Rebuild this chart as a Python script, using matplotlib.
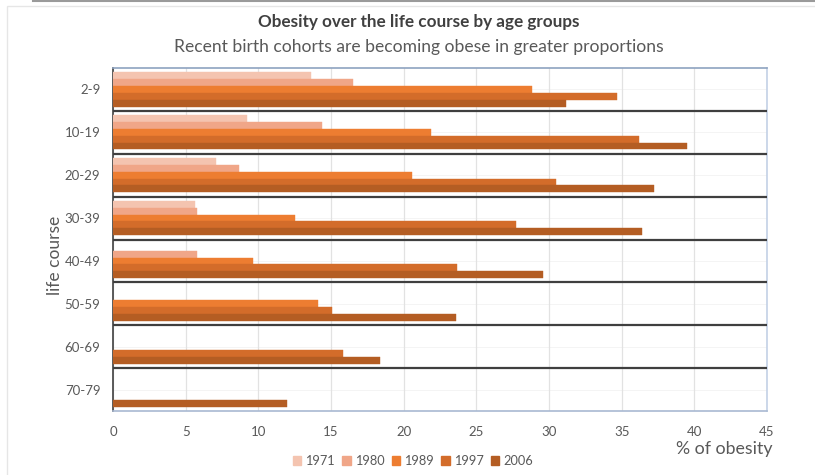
"""
Obesity over the life course by age groups — horizontal grouped bars,
one block per age group, one bar per birth-cohort survey year.
"""

import numpy as np
import matplotlib
matplotlib.use("Agg")
import matplotlib.pyplot as plt
from matplotlib.lines import Line2D
from matplotlib.patches import Rectangle

plt.rcParams["font.family"] = ["Lato", "DejaVu Sans"]

age_groups = ["2-9", "10-19", "20-29", "30-39", "40-49", "50-59", "60-69", "70-79"]
years = ["1971", "1980", "1989", "1997", "2006"]

# % obese per age group, one list per survey year (None = no data)
obesity_1971 = [13.6, 9.2, 7.1, 5.65, None, None, None, None]
obesity_1980 = [16.5, 14.4, 8.7, 5.8, 5.8, None, None, None]
obesity_1989 = [28.8, 21.9, 20.6, 12.5, 9.6, 14.1, None, None]
obesity_1997 = [34.7, 36.2, 30.5, 27.7, 23.7, 15.1, 15.8, None]
obesity_2006 = [31.2, 39.5, 37.2, 36.4, 29.6, 23.6, 18.4, 12.0]

series = [obesity_1971, obesity_1980, obesity_1989, obesity_1997, obesity_2006]
colors = ["#F4C4B0", "#F0A688", "#ED7D31", "#D36C2A", "#B45D23"]

BAR_H = 0.16

fig = plt.figure(figsize=(8.15, 4.75), dpi=100)
ax = fig.add_axes([113 / 815, 1 - 411 / 475, 654 / 815, 343 / 475])

n = len(age_groups)
for k, (vals, col) in enumerate(zip(series, colors)):
    for i, v in enumerate(vals):
        if v is None:
            continue
        # group i occupies [i, i+1]; bars stack from top (oldest) to bottom
        y = i + 0.1 + k * BAR_H + BAR_H / 2
        ax.barh(y, v, height=BAR_H, color=col, edgecolor=col, linewidth=0.3, zorder=3)

ax.set_xlim(0, 45)
ax.set_ylim(n, 0)
ax.set_xticks(np.arange(0, 46, 5))
ax.set_yticks(np.arange(n) + 0.5)
ax.set_yticklabels(age_groups)
ax.tick_params(axis="both", length=0, colors="#595959", labelsize=9.5)
ax.tick_params(axis="y", pad=9)
ax.tick_params(axis="x", pad=11)

ax.grid(axis="x", color="#E2E2E2", linewidth=0.9, zorder=0)
# faint lines at category centres
for i in range(n):
    ax.axhline(i + 0.5, color="#F2F2F2", linewidth=0.6, zorder=1)
# separators between age groups
for i in range(1, n):
    ax.axhline(i, color="#3F3F3F", linewidth=1.6, zorder=4)

for side, col in [("top", "#8EA3C0"), ("bottom", "#A9B9D2"),
                  ("right", "#C3D1E6"), ("left", "#404040")]:
    ax.spines[side].set_color(col)
    ax.spines[side].set_linewidth(1.2)

fig.text(55 / 815, 1 - 255 / 475, "life course", rotation=90,
         ha="center", va="center", fontsize=12.5, color="#595959")

fig.text(419 / 815, 1 - 22 / 475, "Obesity over the life course by age groups",
         ha="center", va="center", fontsize=12.3, fontweight="bold", color="#404040")
fig.text(419 / 815, 1 - 47 / 475, "Recent birth cohorts are becoming obese in greater proportions",
         ha="center", va="center", fontsize=12.6, color="#595959")
fig.text(773 / 815, 1 - 449 / 475, "% of obesity",
         ha="right", va="center", fontsize=12.8, color="#595959")

handles = [Rectangle((0, 0), 1, 1, color=c) for c in colors]
fig.legend(handles, years, loc="center", bbox_to_anchor=(413 / 815, 1 - 461 / 475),
           ncol=5, frameon=False, fontsize=9.2, handlelength=0.65, handleheight=0.65,
           handletextpad=0.3, columnspacing=0.6, labelcolor="#595959")

# outer chart frame and the dark line across the top of the screenshot
fig.add_artist(Rectangle((7 / 815, -0.01), 1.0, 1 - 6 / 475 + 0.01,
                         transform=fig.transFigure, fill=False,
                         edgecolor="#E6E6E6", linewidth=1.0))
fig.add_artist(Line2D([33 / 815, 1.0], [0.998, 0.998], transform=fig.transFigure,
                      color="#9A9A9A", linewidth=1.5))

fig.savefig("out.png", dpi=100)
